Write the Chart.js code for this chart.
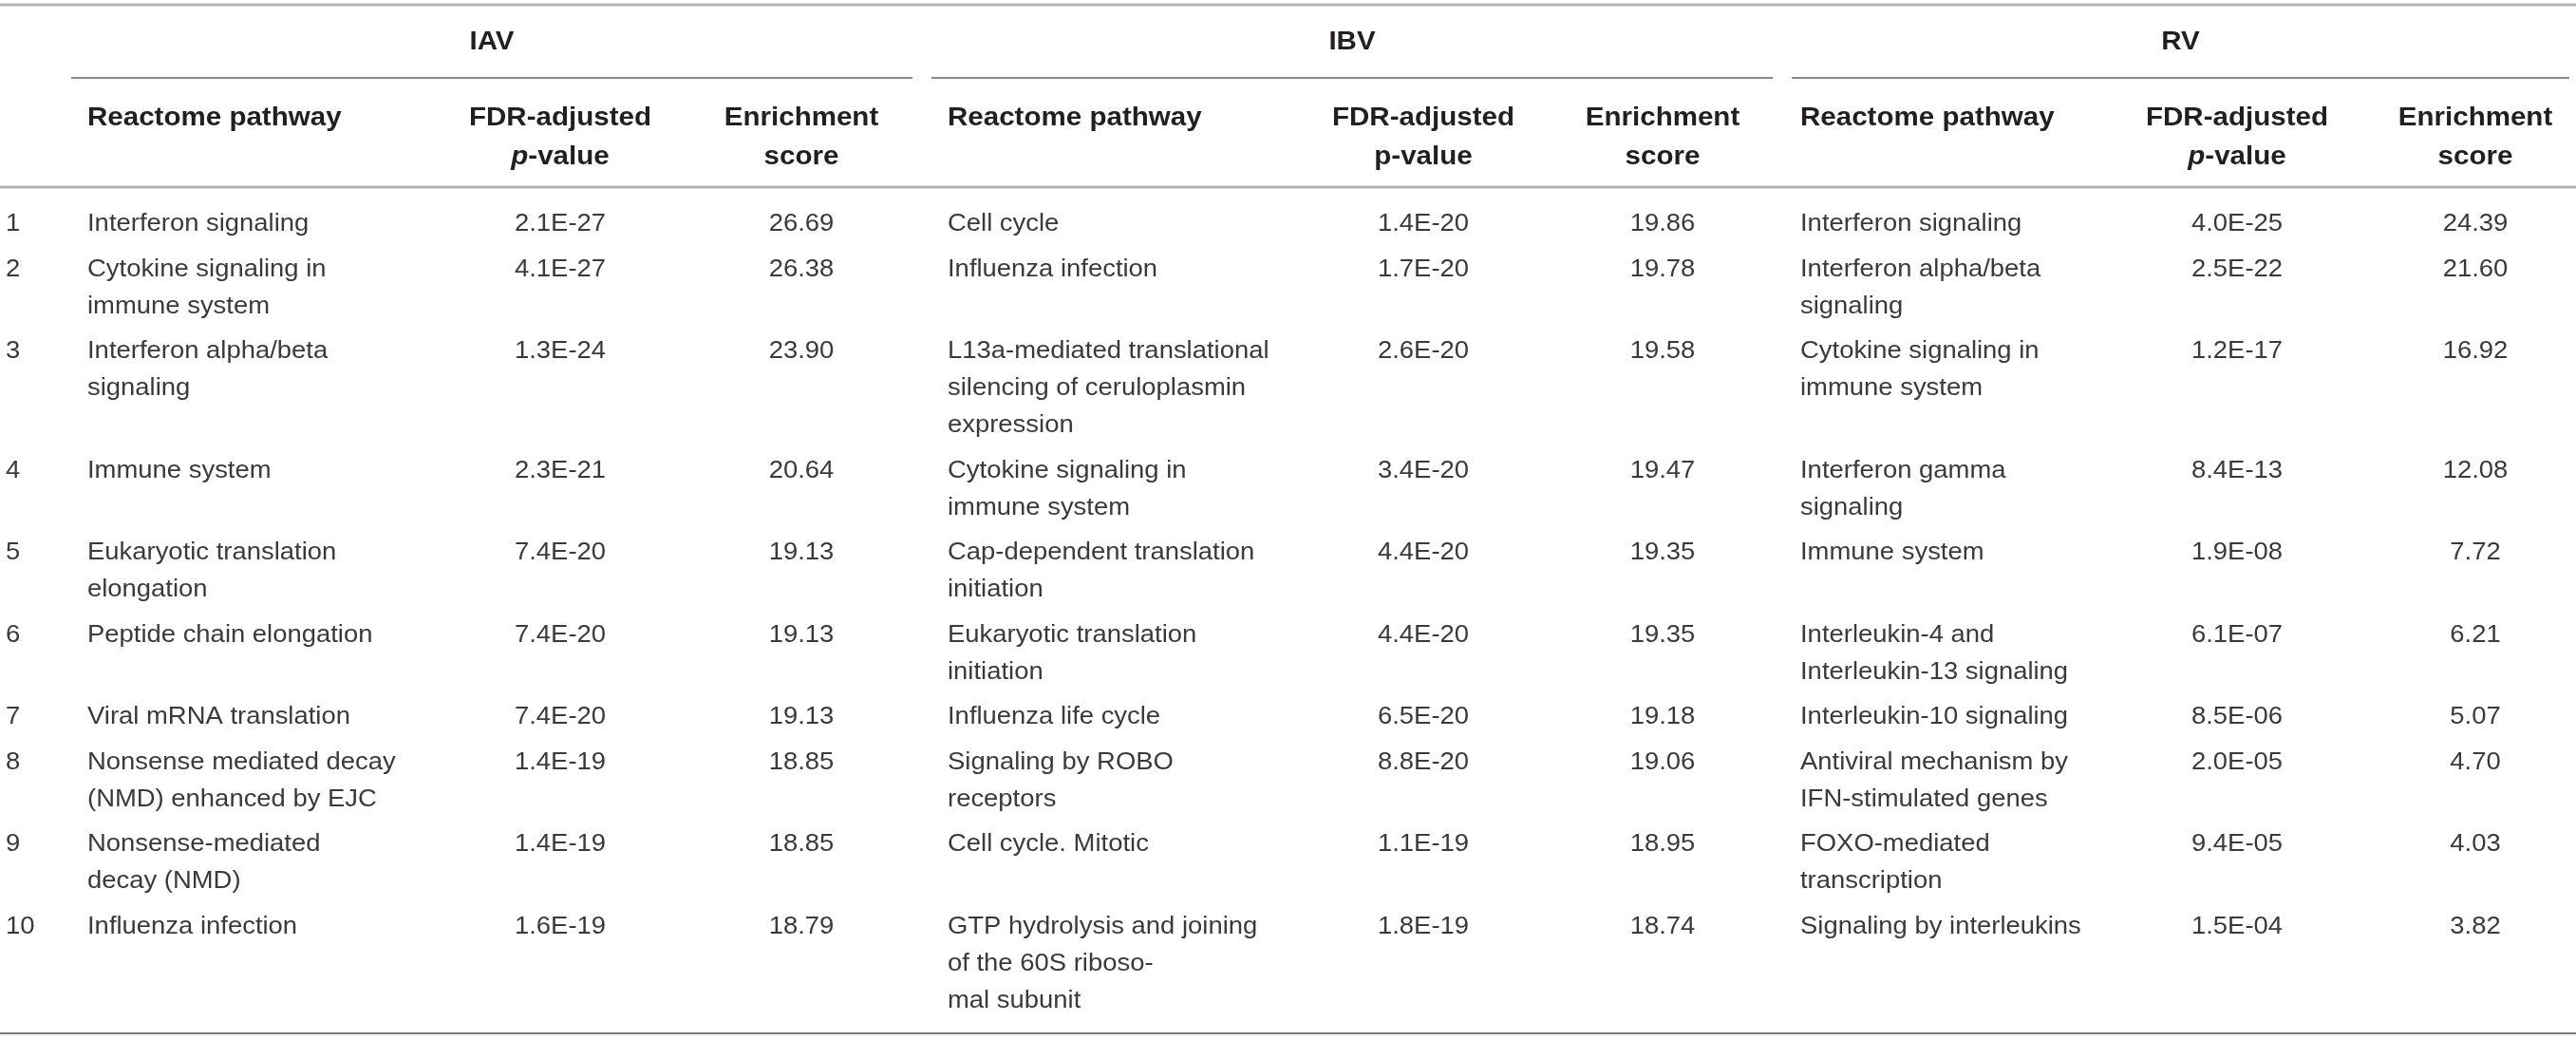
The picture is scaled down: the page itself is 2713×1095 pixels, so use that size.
<!DOCTYPE html>
<html lang="en">
<head>
    <meta charset="UTF-8">
    <title>Top Reactome pathways</title>
    <script src="https://cdn.jsdelivr.net/npm/chart.js"></script>
    <style>
        html, body { margin: 0; padding: 0; background: #fff; }
        #wrap { width: 2713px; height: 1095px; position: relative; }
    </style>
</head>
<body>
    <div id="wrap"><canvas id="tableChart"></canvas></div>
    <script>
        // table contents
        const rowNumbers = ['1', '2', '3', '4', '5', '6', '7', '8', '9', '10'];
        const groups = ['IAV', 'IBV', 'RV'];
        const italicP = [true, false, true];

        const iavPathway = [
            'Interferon signaling',
            'Cytokine signaling in\nimmune system',
            'Interferon alpha/beta\nsignaling',
            'Immune system',
            'Eukaryotic translation\nelongation',
            'Peptide chain elongation',
            'Viral mRNA translation',
            'Nonsense mediated decay\n(NMD) enhanced by EJC',
            'Nonsense-mediated\ndecay (NMD)',
            'Influenza infection'
        ];
        const iavFdr = ['2.1E-27', '4.1E-27', '1.3E-24', '2.3E-21', '7.4E-20', '7.4E-20', '7.4E-20', '1.4E-19', '1.4E-19', '1.6E-19'];
        const iavScore = ['26.69', '26.38', '23.90', '20.64', '19.13', '19.13', '19.13', '18.85', '18.85', '18.79'];

        const ibvPathway = [
            'Cell cycle',
            'Influenza infection',
            'L13a-mediated translational\nsilencing of ceruloplasmin\nexpression',
            'Cytokine signaling in\nimmune system',
            'Cap-dependent translation\ninitiation',
            'Eukaryotic translation\ninitiation',
            'Influenza life cycle',
            'Signaling by ROBO\nreceptors',
            'Cell cycle. Mitotic',
            'GTP hydrolysis and joining\nof the 60S riboso-\nmal subunit'
        ];
        const ibvFdr = ['1.4E-20', '1.7E-20', '2.6E-20', '3.4E-20', '4.4E-20', '4.4E-20', '6.5E-20', '8.8E-20', '1.1E-19', '1.8E-19'];
        const ibvScore = ['19.86', '19.78', '19.58', '19.47', '19.35', '19.35', '19.18', '19.06', '18.95', '18.74'];

        const rvPathway = [
            'Interferon signaling',
            'Interferon alpha/beta\nsignaling',
            'Cytokine signaling in\nimmune system',
            'Interferon gamma\nsignaling',
            'Immune system',
            'Interleukin-4 and\nInterleukin-13 signaling',
            'Interleukin-10 signaling',
            'Antiviral mechanism by\nIFN-stimulated genes',
            'FOXO-mediated\ntranscription',
            'Signaling by interleukins'
        ];
        const rvFdr = ['4.0E-25', '2.5E-22', '1.2E-17', '8.4E-13', '1.9E-08', '6.1E-07', '8.5E-06', '2.0E-05', '9.4E-05', '1.5E-04'];
        const rvScore = ['24.39', '21.60', '16.92', '12.08', '7.72', '6.21', '5.07', '4.70', '4.03', '3.82'];

        // layout (table units = pixels of the 2713 x 1095 page)
        const W = 2713, H = 1095;
        const LINE = 39, ROW_GAP = 8.5, FIRST_ROW = 234;
        const SX = 1.055; // glyphs in the source are a little wide
        const BODY_SIZE = 26, HEAD_SIZE = 28;
        const BODY_FONT = BODY_SIZE + 'px "Liberation Sans", Arial, sans-serif';
        const BODY_COLOR = '#3a3a3a', HEAD_COLOR = '#231f20';

        const groupCols = [
            { path: 92, fdr: 590, score: 844, lineFrom: 75, lineTo: 961 },
            { path: 998, fdr: 1499, score: 1751, lineFrom: 981, lineTo: 1867 },
            { path: 1896, fdr: 2356, score: 2607, lineFrom: 1887, lineTo: 2706 }
        ];
        const numX = 6;

        // row positions from the number of text lines in each row
        const rowLines = rowNumbers.map((_, i) =>
            Math.max(...[iavPathway, ibvPathway, rvPathway].map(c => c[i].split('\n').length)));
        const rowY = [];
        rowLines.reduce((y, n, i) => { rowY[i] = y; return y + n * LINE + ROW_GAP; }, FIRST_ROW);

        function column(texts, x, align) {
            return {
                data: texts.map((t, i) => ({ x: x, y: rowY[i] })),
                texts: texts, align: align,
                pointRadius: 0, pointHoverRadius: 0, showLine: false
            };
        }

        const datasets = [column(rowNumbers, numX, 'left')];
        [[iavPathway, iavFdr, iavScore], [ibvPathway, ibvFdr, ibvScore], [rvPathway, rvFdr, rvScore]]
            .forEach((cols, g) => {
                datasets.push(column(cols[0], groupCols[g].path, 'left'));
                datasets.push(column(cols[1], groupCols[g].fdr, 'center'));
                datasets.push(column(cols[2], groupCols[g].score, 'center'));
            });

        function putText(ctx, str, x, y, font, align, color) {
            ctx.save();
            ctx.translate(x, y);
            ctx.scale(SX, 1);
            ctx.font = font;
            ctx.textAlign = align;
            ctx.textBaseline = 'alphabetic';
            ctx.fillStyle = color;
            ctx.fillText(str, 0, 0);
            ctx.restore();
        }

        function rule(ctx, sx, sy, x1, x2, y, color, width) {
            ctx.save();
            ctx.strokeStyle = color;
            ctx.lineWidth = width;
            ctx.beginPath();
            ctx.moveTo(sx.getPixelForValue(x1), sy.getPixelForValue(y));
            ctx.lineTo(sx.getPixelForValue(x2), sy.getPixelForValue(y));
            ctx.stroke();
            ctx.restore();
        }

        const tablePlugin = {
            id: 'tableText',
            afterDatasetsDraw(chart) {
                const ctx = chart.ctx;
                const sx = chart.scales.x, sy = chart.scales.y;
                const headFont = 'bold ' + HEAD_SIZE + 'px "Liberation Sans", Arial, sans-serif';
                const headItal = 'italic bold ' + HEAD_SIZE + 'px "Liberation Sans", Arial, sans-serif';
                const capOff = HEAD_SIZE * 0.358;

                // horizontal rules
                rule(ctx, sx, sy, 0, W, 5, '#b3b3b3', 3);
                groupCols.forEach(c => rule(ctx, sx, sy, c.lineFrom, c.lineTo, 82, '#8a8a8a', 2));
                rule(ctx, sx, sy, 0, W, 197, '#b3b3b3', 3);
                rule(ctx, sx, sy, 0, W, 1088, '#7a7a7a', 2);

                // header rows
                groups.forEach((g, i) => {
                    const c = groupCols[i];
                    const cx = sx.getPixelForValue((c.lineFrom + c.lineTo) / 2);
                    putText(ctx, g, cx, sy.getPixelForValue(42) + capOff, headFont, 'center', HEAD_COLOR);
                    const y1 = sy.getPixelForValue(122) + capOff;
                    const y2 = sy.getPixelForValue(163) + capOff;
                    putText(ctx, 'Reactome pathway', sx.getPixelForValue(c.path), y1, headFont, 'left', HEAD_COLOR);
                    const fx = sx.getPixelForValue(c.fdr);
                    putText(ctx, 'FDR-adjusted', fx, y1, headFont, 'center', HEAD_COLOR);
                    // p-value, the p set in italic for some groups
                    const pFont = italicP[i] ? headItal : headFont;
                    ctx.save();
                    ctx.font = pFont;
                    const wp = ctx.measureText('p').width;
                    ctx.font = headFont;
                    const wr = ctx.measureText('-value').width;
                    ctx.restore();
                    const left = fx - (wp + wr) * SX / 2;
                    putText(ctx, 'p', left, y2, pFont, 'left', HEAD_COLOR);
                    putText(ctx, '-value', left + wp * SX, y2, headFont, 'left', HEAD_COLOR);
                    const ex = sx.getPixelForValue(c.score);
                    putText(ctx, 'Enrichment', ex, y1, headFont, 'center', HEAD_COLOR);
                    putText(ctx, 'score', ex, y2, headFont, 'center', HEAD_COLOR);
                });

                // body cells, anchored on the dataset points
                const linePx = sy.getPixelForValue(LINE) - sy.getPixelForValue(0);
                chart.data.datasets.forEach((ds, di) => {
                    const meta = chart.getDatasetMeta(di);
                    meta.data.forEach((pt, i) => {
                        ds.texts[i].split('\n').forEach((line, k) => {
                            const y = pt.y + k * linePx + BODY_SIZE * 0.358;
                            putText(ctx, line, pt.x, y, BODY_FONT, ds.align, BODY_COLOR);
                        });
                    });
                });
            }
        };

        new Chart(document.getElementById('tableChart'), {
            type: 'scatter',
            data: { datasets: datasets },
            options: {
                responsive: true,
                maintainAspectRatio: false,
                animation: false,
                events: [],
                layout: { padding: 0 },
                plugins: { legend: { display: false }, tooltip: { enabled: false } },
                scales: {
                    x: { type: 'linear', min: 0, max: W, display: false },
                    y: { type: 'linear', min: 0, max: H, reverse: true, display: false }
                }
            },
            plugins: [tablePlugin]
        });
    </script>
</body>
</html>
